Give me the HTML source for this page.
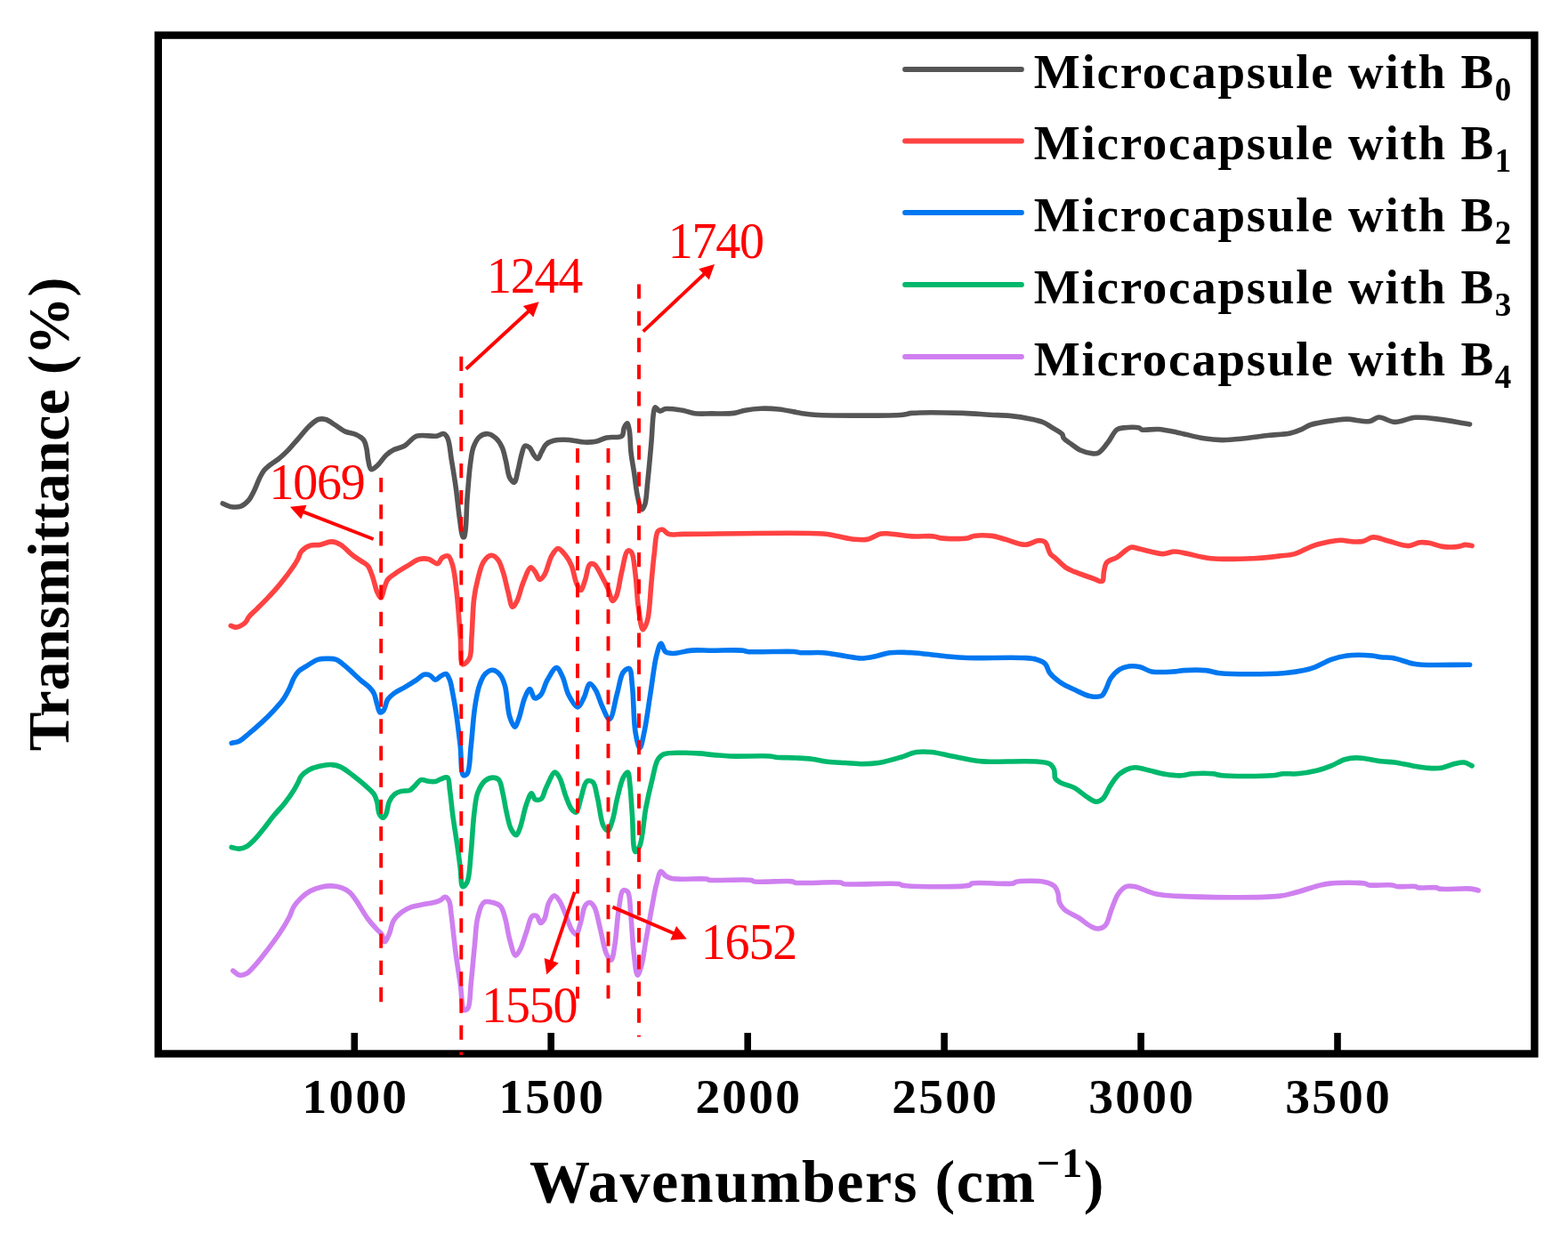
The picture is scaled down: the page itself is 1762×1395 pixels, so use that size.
<!DOCTYPE html>
<html><head><meta charset="utf-8"><title>FTIR spectra</title>
<style>html,body{margin:0;padding:0;background:#fff;}body{width:1762px;height:1395px;overflow:hidden;}svg{display:block;}</style>
</head><body>
<svg width="1762" height="1395" viewBox="0 0 1762 1395"><rect x="0" y="0" width="1762" height="1395" fill="#ffffff"/>
<path d="M250.2,566.0 C253.0,567.1 255.6,568.8 258.7,569.4 C262.3,570.0 267.1,570.3 270.6,569.1 C273.9,567.9 276.7,565.4 279.2,562.6 C282.0,559.4 284.0,554.7 286.0,550.7 C287.9,546.8 289.3,542.5 291.1,538.8 C292.7,535.4 294.0,532.2 296.2,529.4 C298.5,526.5 301.8,524.0 304.7,521.7 C307.5,519.5 310.3,518.1 313.2,515.8 C316.5,513.1 320.0,509.9 323.4,506.4 C327.3,502.4 331.4,497.3 335.4,492.8 C339.4,488.3 343.3,482.9 347.3,479.2 C350.7,476.1 354.1,472.7 357.5,471.5 C360.3,470.6 363.1,470.7 366.0,471.5 C369.4,472.4 372.7,475.3 376.2,477.5 C380.0,479.9 384.0,483.2 388.1,485.1 C391.9,486.8 396.5,486.8 400.0,488.5 C403.2,490.0 406.6,491.8 408.6,494.5 C410.6,497.2 411.2,501.1 412.0,504.7 C412.9,508.5 412.8,512.7 413.7,516.6 C414.5,520.4 415.1,527.0 417.1,527.7 C418.8,528.3 421.6,525.4 423.9,523.4 C427.2,520.6 430.7,514.6 434.1,511.5 C436.9,509.0 439.4,507.2 442.6,505.6 C446.1,503.8 450.6,503.5 454.5,501.3 C459.1,498.7 462.7,492.2 468.2,490.2 C474.4,488.0 484.7,491.0 490.3,490.2 C493.8,489.7 496.6,487.0 498.8,487.7 C500.7,488.3 501.9,490.2 503.1,492.8 C505.4,497.7 505.9,508.0 507.3,516.6 C509.0,526.6 510.9,537.9 512.4,549.0 C514.0,560.6 515.2,574.7 516.7,584.7 C517.8,592.0 518.4,602.1 520.1,603.5 C520.6,603.9 521.2,603.9 521.7,603.5 C524.2,601.1 523.9,573.3 525.1,559.2 C526.2,546.2 527.1,532.0 528.5,521.7 C529.5,514.4 529.9,508.4 531.9,503.0 C533.6,498.4 535.7,493.6 538.7,491.1 C541.3,488.9 545.0,487.5 548.1,487.7 C551.3,487.9 554.9,490.4 557.5,492.8 C560.3,495.4 562.5,499.1 564.3,503.0 C566.3,507.4 567.1,512.9 568.5,518.3 C570.0,524.2 570.5,533.0 572.8,537.1 C574.2,539.6 576.5,542.6 577.9,542.2 C579.9,541.7 580.8,533.4 582.1,528.5 C583.6,522.8 584.8,514.8 586.4,509.8 C587.5,506.4 588.1,502.1 589.8,501.3 C591.1,500.7 593.4,501.8 594.9,503.0 C597.0,504.6 598.2,509.2 600.0,511.5 C601.4,513.3 603.0,516.0 604.3,515.8 C605.9,515.6 607.0,510.7 608.5,508.1 C610.1,505.3 611.3,501.7 613.6,499.6 C615.9,497.5 618.7,496.2 622.2,495.3 C626.8,494.1 633.5,494.2 639.2,494.5 C644.9,494.8 650.8,496.8 656.2,497.0 C661.0,497.2 665.5,497.1 669.8,496.2 C674.0,495.3 677.4,492.9 681.8,491.9 C686.9,490.7 695.7,492.8 698.8,490.2 C701.1,488.2 700.1,483.5 701.3,480.9 C702.2,478.9 703.8,475.7 704.7,475.8 C705.8,476.0 706.6,480.7 707.3,484.3 C708.4,490.2 708.1,500.3 709.0,508.1 C709.8,515.6 711.2,522.3 712.4,530.2 C713.8,539.2 714.9,551.4 716.7,559.2 C717.9,564.6 719.3,572.5 720.9,572.8 C722.0,573.0 723.5,570.2 724.5,567.7 C726.5,562.6 726.6,552.0 727.7,542.2 C729.1,529.1 730.8,510.2 732.0,496.2 C733.0,484.5 733.3,470.2 734.5,463.8 C735.0,461.0 735.1,458.2 736.2,457.9 C737.4,457.5 739.4,461.8 741.4,462.1 C743.4,462.4 745.3,460.0 748.2,459.6 C752.8,459.0 761.2,460.3 766.9,461.3 C771.8,462.1 775.5,464.1 780.5,464.7 C786.4,465.5 793.1,464.9 800.0,464.9 C807.8,464.9 818.1,465.3 825.0,464.4 C829.9,463.7 833.0,462.0 837.5,461.2 C842.8,460.2 848.9,459.4 854.9,459.2 C861.3,459.0 867.9,459.2 874.9,460.0 C882.8,460.8 892.6,463.3 899.9,464.4 C905.5,465.2 907.7,465.8 914.9,466.2 C933.5,467.3 998.7,467.6 1014.7,466.2 C1019.8,465.7 1020.0,464.8 1024.7,464.4 C1035.9,463.4 1066.0,463.9 1082.1,464.4 C1093.7,464.7 1102.8,465.7 1112.1,466.2 C1120.1,466.7 1127.0,466.6 1134.6,467.4 C1142.4,468.2 1151.4,469.5 1158.2,470.9 C1163.4,472.0 1167.6,472.8 1171.8,474.5 C1175.8,476.1 1179.1,478.7 1182.7,480.9 C1186.4,483.2 1191.6,485.6 1193.6,488.1 C1194.8,489.6 1194.3,491.2 1195.4,492.7 C1197.0,494.9 1200.6,496.9 1203.6,499.0 C1206.9,501.4 1210.5,504.5 1214.5,506.3 C1218.6,508.2 1224.4,509.7 1228.1,509.9 C1230.6,510.0 1232.3,510.1 1234.5,509.0 C1237.8,507.3 1241.2,502.2 1244.5,498.1 C1248.2,493.5 1251.5,485.3 1255.3,482.7 C1257.7,481.1 1259.6,481.3 1262.6,480.9 C1267.1,480.4 1276.6,479.9 1279.9,480.9 C1281.5,481.4 1281.4,482.5 1283.0,483.0 C1286.5,484.0 1295.4,482.1 1301.7,482.5 C1308.4,483.0 1314.6,484.4 1322.1,485.9 C1331.3,487.7 1343.6,491.4 1352.8,492.8 C1360.3,494.0 1366.0,494.5 1373.2,494.6 C1381.2,494.7 1390.3,493.6 1398.8,492.8 C1407.3,491.9 1415.8,490.5 1424.3,489.5 C1432.8,488.5 1442.8,488.4 1449.8,486.9 C1454.9,485.8 1458.6,484.3 1462.6,482.6 C1466.2,481.1 1468.4,479.0 1472.8,477.5 C1479.7,475.2 1493.3,473.4 1500.9,472.3 C1506.0,471.6 1508.7,471.1 1513.7,471.1 C1520.8,471.1 1532.7,474.7 1539.2,473.6 C1543.5,472.9 1545.5,469.3 1549.4,469.0 C1554.5,468.7 1560.9,474.2 1567.3,474.4 C1574.5,474.7 1582.4,469.9 1590.3,469.3 C1598.5,468.7 1606.6,470.0 1615.8,471.1 C1626.7,472.4 1639.7,475.0 1651.6,476.9" fill="none" stroke="#555555" stroke-width="5.6" stroke-linejoin="round" stroke-linecap="round"/>
<path d="M259.4,703.4 C261.4,704.0 263.1,705.3 265.3,705.1 C268.3,704.8 273.0,702.2 275.5,700.0 C277.6,698.1 277.9,695.5 279.8,693.2 C282.2,690.2 285.9,687.2 289.2,683.9 C292.9,680.2 297.1,676.2 301.1,671.9 C305.5,667.2 310.1,662.2 314.7,656.6 C319.8,650.4 326.4,641.6 330.0,636.2 C332.3,632.8 333.6,630.5 335.1,627.7 C336.4,625.1 336.6,622.3 338.5,620.0 C340.8,617.3 345.2,614.4 348.8,613.2 C352.1,612.1 355.4,613.0 359.0,612.4 C363.2,611.7 368.4,608.7 372.6,608.9 C376.3,609.0 379.4,610.4 382.8,612.4 C387.3,615.0 392.1,621.0 396.4,624.3 C400.0,627.0 403.6,629.0 406.6,631.1 C409.1,632.9 411.6,633.8 413.5,636.2 C415.8,639.1 417.0,643.7 418.6,648.1 C420.5,653.2 421.8,660.8 423.7,665.1 C425.0,668.0 426.6,672.0 427.9,671.9 C429.5,671.7 430.8,663.6 432.2,660.0 C433.4,656.9 433.8,654.0 435.6,651.5 C437.6,648.8 440.9,647.0 444.1,644.7 C448.0,641.9 453.1,638.9 457.7,636.2 C462.2,633.5 467.0,629.6 471.4,628.5 C474.9,627.6 478.3,627.7 481.6,628.5 C485.1,629.3 489.2,634.2 491.8,633.6 C494.1,633.1 494.8,628.2 496.9,626.8 C498.8,625.5 501.9,624.2 503.7,625.1 C506.1,626.3 507.4,631.5 508.8,636.2 C511.0,643.5 511.8,654.1 513.1,665.1 C514.8,679.7 516.1,701.3 517.3,716.2 C518.3,727.7 516.8,745.7 519.9,746.9 C521.7,747.6 525.8,743.4 527.5,740.0 C530.2,734.7 529.2,725.3 530.0,716.2 C531.0,704.1 531.1,685.5 532.6,673.6 C533.7,665.0 534.9,658.7 536.8,651.5 C538.6,644.5 540.3,635.8 543.6,631.1 C545.9,627.8 549.3,624.4 552.1,624.3 C554.7,624.2 557.7,626.8 559.8,629.4 C562.6,632.9 564.0,639.2 565.8,644.7 C567.8,651.0 569.1,658.6 570.9,665.1 C572.5,671.1 573.8,681.8 576.0,682.2 C577.5,682.5 579.5,678.4 581.1,675.4 C583.6,670.5 585.2,661.3 587.9,654.9 C590.4,648.9 593.6,638.4 596.4,637.9 C598.1,637.6 599.9,641.0 601.5,643.0 C603.4,645.4 604.7,651.3 606.6,651.5 C608.2,651.7 610.0,648.9 611.7,646.4 C614.7,641.8 617.0,629.6 620.2,624.3 C622.3,620.8 624.6,616.7 627.1,616.6 C629.7,616.5 633.1,621.2 635.6,624.3 C638.3,627.7 640.5,631.7 642.4,636.2 C644.6,641.6 645.4,650.0 647.5,654.9 C649.0,658.4 651.0,663.5 652.6,663.4 C654.4,663.3 656.1,655.9 657.7,651.5 C659.6,646.4 660.1,636.5 662.8,634.5 C664.2,633.4 666.2,633.6 667.9,634.5 C670.8,636.1 673.8,643.5 676.4,648.1 C678.9,652.6 681.2,657.1 683.2,661.7 C685.2,666.2 686.5,675.1 688.4,675.4 C689.7,675.6 691.3,672.8 692.6,670.2 C695.2,664.8 696.4,651.7 698.6,643.0 C700.7,634.8 702.4,620.6 705.4,619.2 C706.7,618.6 708.4,619.5 709.6,620.9 C712.3,624.2 712.7,635.8 713.9,644.7 C715.4,655.8 715.7,670.9 717.3,682.2 C718.7,691.6 720.2,707.4 722.4,707.7 C723.9,707.9 726.1,702.2 727.5,697.5 C730.1,688.6 730.5,669.6 731.8,656.6 C733.0,644.7 733.8,633.1 735.2,622.6 C736.4,613.4 736.4,600.5 739.4,597.0 C740.8,595.4 742.7,595.0 744.5,595.3 C746.7,595.7 748.4,599.4 751.4,600.4 C755.6,601.8 759.9,600.4 768.4,600.4 C794.3,600.4 900.2,598.1 924.8,600.0 C932.5,600.6 934.4,601.5 939.8,602.4 C946.0,603.5 953.6,605.6 959.8,606.2 C965.1,606.7 969.9,607.2 974.8,606.2 C979.9,605.2 985.2,600.9 989.8,600.0 C993.4,599.3 995.7,599.8 999.8,600.0 C1006.2,600.4 1016.4,602.4 1024.7,602.9 C1033.0,603.4 1043.8,602.1 1049.7,602.9 C1053.0,603.3 1053.8,604.5 1057.2,604.9 C1063.8,605.8 1080.5,606.0 1087.1,604.9 C1090.5,604.3 1091.4,602.9 1094.6,602.4 C1099.6,601.6 1108.5,601.6 1114.6,602.4 C1120.0,603.1 1124.1,604.8 1129.6,606.2 C1136.4,608.0 1145.4,612.4 1152.2,612.3 C1157.8,612.2 1163.5,607.6 1167.6,607.5 C1170.3,607.5 1172.5,607.8 1174.4,609.4 C1177.1,611.7 1177.8,619.4 1180.2,622.5 C1181.9,624.8 1183.8,625.4 1186.0,627.3 C1189.2,630.1 1193.6,635.2 1197.5,637.9 C1200.7,640.1 1203.2,641.0 1207.2,642.7 C1213.4,645.3 1226.4,649.4 1231.3,651.4 C1233.5,652.3 1234.6,653.3 1236.0,653.5 C1237.1,653.6 1238.3,653.8 1239.0,653.0 C1240.4,651.6 1239.7,646.1 1240.5,642.7 C1241.3,639.2 1241.5,634.8 1243.8,632.1 C1246.3,629.2 1251.4,628.7 1255.4,626.3 C1260.3,623.3 1266.1,616.2 1270.9,615.2 C1274.3,614.5 1276.5,616.3 1280.5,617.1 C1287.1,618.4 1299.6,622.6 1306.8,622.6 C1311.8,622.6 1315.1,620.1 1319.6,620.0 C1324.5,619.9 1329.2,621.5 1334.9,622.6 C1342.3,624.0 1350.5,626.7 1360.4,627.7 C1374.0,629.0 1395.0,628.3 1409.0,627.7 C1419.7,627.2 1428.8,626.1 1437.1,625.1 C1443.7,624.3 1448.9,624.3 1454.9,622.6 C1461.6,620.7 1468.7,615.9 1475.4,613.6 C1481.5,611.5 1487.7,610.1 1493.2,609.0 C1497.8,608.1 1501.5,607.3 1506.0,607.2 C1510.9,607.1 1516.7,608.8 1521.3,609.0 C1525.0,609.1 1528.1,609.2 1531.5,608.5 C1535.3,607.7 1538.8,604.2 1543.0,603.9 C1548.0,603.6 1553.6,606.5 1559.6,608.0 C1566.6,609.7 1576.1,613.8 1582.6,613.6 C1587.5,613.5 1591.3,610.3 1595.4,609.8 C1599.0,609.4 1601.9,609.7 1605.6,610.3 C1610.2,611.0 1615.6,613.7 1620.9,614.4 C1626.6,615.1 1634.1,615.0 1638.8,614.4 C1641.9,614.0 1643.9,612.5 1646.5,612.4 C1649.0,612.3 1651.6,613.2 1654.1,613.6" fill="none" stroke="#ff4242" stroke-width="5.6" stroke-linejoin="round" stroke-linecap="round"/>
<path d="M260.2,835.4 C263.0,834.7 265.8,834.6 268.7,833.2 C272.5,831.3 276.5,827.3 280.6,823.9 C285.1,820.2 289.8,816.1 294.3,811.9 C298.9,807.6 303.8,802.8 307.9,798.3 C311.6,794.3 315.2,790.5 318.1,786.4 C320.8,782.6 322.9,778.5 324.9,774.5 C326.8,770.6 328.1,766.1 330.0,762.6 C331.6,759.7 332.8,757.2 335.1,754.9 C337.7,752.3 341.8,750.3 345.4,748.1 C349.2,745.8 353.2,742.6 357.3,741.3 C361.1,740.1 365.6,740.3 369.2,740.4 C372.3,740.4 375.0,740.3 377.7,741.3 C380.7,742.4 383.6,745.1 386.2,747.2 C388.7,749.1 390.4,750.9 393.0,753.2 C396.5,756.3 401.1,760.9 405.0,764.3 C408.5,767.4 412.5,770.0 415.2,772.8 C417.4,775.1 418.9,776.9 420.3,779.6 C421.9,782.9 422.5,787.8 423.7,791.5 C424.8,794.8 425.5,800.3 427.1,800.9 C428.3,801.3 430.1,799.8 431.3,798.3 C433.2,795.9 433.5,789.6 435.6,786.4 C437.4,783.6 439.7,781.7 442.4,779.6 C445.7,777.1 450.2,775.2 454.3,772.8 C458.7,770.2 464.0,766.9 468.0,764.3 C471.2,762.2 473.7,759.0 476.5,758.3 C478.8,757.7 481.2,758.3 483.3,759.2 C485.5,760.2 487.2,764.2 489.2,764.3 C491.2,764.4 493.1,761.2 495.2,760.0 C497.1,758.9 499.5,757.0 501.2,757.5 C503.0,758.1 504.2,761.5 505.4,764.3 C507.0,768.3 507.7,773.8 508.8,779.6 C510.2,787.0 511.8,796.0 513.1,805.1 C514.6,815.6 516.0,828.0 517.3,839.2 C518.5,850.1 517.6,869.6 520.7,871.5 C521.9,872.2 523.8,871.3 525.0,869.8 C528.1,865.9 527.9,850.3 529.2,839.2 C530.7,826.2 531.6,808.9 533.4,796.6 C534.8,787.0 536.1,778.1 538.5,771.1 C540.3,765.7 542.3,760.5 545.3,757.5 C547.7,755.1 551.0,753.0 553.8,753.2 C556.7,753.4 560.2,756.5 562.4,759.2 C564.9,762.2 566.0,766.0 567.5,771.1 C569.9,779.4 570.0,796.8 572.6,805.1 C574.2,810.3 576.7,817.1 578.5,817.1 C580.0,817.1 581.4,812.2 582.8,808.5 C585.1,802.6 587.0,790.9 589.6,784.7 C591.4,780.4 593.7,774.4 595.6,774.5 C597.4,774.6 598.4,783.9 600.7,784.7 C602.6,785.3 605.5,783.4 607.5,781.3 C610.7,778.0 612.0,769.5 615.1,764.3 C618.0,759.3 622.4,750.5 625.4,750.6 C628.0,750.7 630.2,756.7 632.2,760.9 C634.9,766.4 635.9,775.4 639.0,781.3 C641.7,786.5 646.2,795.0 649.2,794.9 C651.8,794.8 653.9,788.6 656.0,784.7 C658.5,780.0 660.1,768.9 662.8,768.5 C664.8,768.2 667.6,772.9 669.6,776.2 C672.3,780.6 673.8,787.8 676.4,793.2 C678.9,798.5 682.4,808.8 685.0,808.5 C688.4,808.1 690.8,788.8 693.5,779.6 C695.9,771.3 696.9,760.3 700.3,755.8 C702.2,753.2 705.4,750.8 707.1,751.5 C709.7,752.7 709.5,763.0 710.5,771.1 C712.1,784.1 711.8,809.4 713.9,822.2 C715.2,830.1 717.3,840.9 719.0,840.9 C720.7,840.9 722.5,829.8 724.1,822.2 C726.5,810.9 728.6,793.8 730.9,779.6 C733.2,765.4 735.0,747.2 737.7,737.0 C739.3,731.1 740.9,723.5 742.8,723.4 C744.4,723.3 745.5,731.0 748.0,732.8 C750.2,734.4 753.1,734.4 756.5,734.5 C761.8,734.6 769.9,731.7 776.9,731.1 C784.3,730.5 791.5,731.2 800.0,731.2 C810.5,731.2 828.6,730.4 835.0,731.2 C837.4,731.5 837.4,732.2 840.0,732.5 C848.2,733.6 882.8,731.7 892.4,732.5 C896.0,732.8 896.7,733.4 899.9,733.7 C905.8,734.2 916.5,733.1 924.8,733.7 C933.1,734.3 942.2,736.4 949.8,737.5 C956.1,738.4 961.5,740.0 967.3,740.0 C973.1,740.0 979.2,738.6 984.8,737.5 C990.0,736.5 994.1,734.4 999.8,733.7 C1007.0,732.8 1016.4,733.3 1024.7,733.7 C1033.0,734.1 1042.4,735.4 1049.7,736.2 C1055.3,736.8 1059.2,737.5 1064.7,738.0 C1071.4,738.6 1077.8,739.2 1087.1,739.5 C1102.7,740.0 1135.9,738.7 1149.6,739.5 C1156.3,739.9 1160.1,739.9 1164.5,741.2 C1168.3,742.3 1172.0,743.7 1174.5,746.2 C1177.0,748.7 1177.1,753.0 1179.5,756.2 C1182.5,760.1 1187.2,764.2 1192.0,767.4 C1197.1,770.9 1203.8,773.6 1209.5,776.2 C1214.6,778.6 1219.5,781.5 1224.5,782.4 C1229.0,783.3 1234.8,784.0 1237.9,782.2 C1240.6,780.7 1241.4,777.1 1243.0,774.1 C1244.8,770.7 1245.7,766.1 1248.1,762.6 C1250.7,758.8 1254.6,754.6 1258.3,752.3 C1261.5,750.3 1264.9,749.5 1268.5,749.0 C1272.5,748.5 1277.1,748.9 1281.3,749.8 C1285.6,750.8 1289.0,753.9 1294.1,754.9 C1301.0,756.2 1313.0,755.3 1319.6,754.9 C1323.8,754.6 1325.6,753.9 1329.8,753.6 C1336.4,753.2 1347.9,752.9 1355.3,753.6 C1361.1,754.2 1363.6,756.0 1370.7,756.7 C1385.8,758.2 1425.0,757.9 1442.2,756.7 C1452.0,756.0 1458.6,755.0 1465.1,753.6 C1470.0,752.5 1473.3,751.5 1477.9,749.8 C1483.4,747.7 1489.7,743.5 1495.8,741.4 C1501.7,739.3 1507.0,737.8 1513.7,737.0 C1522.0,736.0 1534.8,736.4 1541.8,737.0 C1546.1,737.4 1548.4,738.4 1552.0,738.8 C1556.0,739.3 1559.9,738.8 1564.7,739.6 C1571.3,740.7 1581.5,744.8 1587.7,746.0 C1591.7,746.8 1593.2,746.9 1597.9,747.2 C1608.8,747.8 1633.7,747.2 1651.6,747.2" fill="none" stroke="#0077f0" stroke-width="5.6" stroke-linejoin="round" stroke-linecap="round"/>
<path d="M260.2,952.4 C263.0,953.0 265.9,954.2 268.7,954.1 C271.6,954.0 274.5,953.0 277.2,951.5 C280.3,949.8 282.9,946.8 285.8,943.9 C289.2,940.5 292.5,936.2 296.0,931.9 C299.9,927.1 303.9,921.5 307.9,916.6 C311.8,911.9 316.1,907.7 319.8,903.0 C323.5,898.3 327.3,892.9 330.0,888.5 C332.1,885.1 333.6,882.1 335.1,879.2 C336.4,876.8 336.8,874.5 338.5,872.4 C340.5,869.9 343.8,867.3 347.1,865.5 C350.6,863.6 354.8,862.3 359.0,861.3 C363.3,860.3 368.4,859.4 372.6,859.6 C376.3,859.8 379.3,860.5 382.8,862.1 C387.2,864.1 391.9,868.1 396.4,871.5 C401.0,875.0 405.9,878.9 410.0,882.6 C413.8,886.0 418.0,889.3 420.3,892.8 C422.1,895.6 422.8,898.1 423.7,901.3 C424.8,905.3 424.6,911.8 426.2,914.9 C427.3,917.0 429.2,919.3 430.5,919.2 C431.7,919.1 432.9,916.9 433.9,914.9 C435.5,911.7 435.5,905.2 437.3,901.3 C438.8,898.0 440.9,894.8 443.3,892.8 C445.5,891.0 448.2,890.1 450.9,889.4 C453.8,888.6 457.7,889.6 460.3,888.5 C462.7,887.5 464.2,885.3 466.2,883.4 C468.4,881.3 470.4,877.4 473.1,876.6 C475.6,875.8 478.8,878.0 481.6,878.3 C484.4,878.6 487.7,878.9 490.1,878.3 C492.1,877.8 493.3,876.5 495.2,875.8 C497.5,875.0 501.2,872.9 502.9,874.1 C505.2,875.6 504.6,882.3 505.4,887.7 C506.6,895.5 507.5,906.6 508.8,916.6 C510.3,927.5 512.4,940.2 513.9,950.7 C515.2,959.8 516.3,968.2 517.3,976.2 C518.2,983.4 517.8,995.9 519.9,996.6 C521.2,997.0 523.6,994.3 525.0,991.5 C527.9,985.6 528.0,970.7 529.2,959.2 C530.6,946.0 531.1,929.0 532.6,916.6 C533.8,907.0 534.2,898.1 536.8,891.1 C538.9,885.6 541.9,880.3 545.3,877.5 C547.8,875.4 551.1,874.1 553.8,874.1 C556.2,874.1 558.9,874.7 560.6,876.6 C563.1,879.3 563.6,885.7 564.9,891.1 C566.5,897.7 567.6,906.2 569.2,913.2 C570.7,919.7 571.9,927.4 574.3,931.9 C575.9,935.0 578.5,939.0 580.2,938.8 C581.9,938.6 583.1,933.9 584.5,930.2 C586.8,924.0 588.8,911.7 591.3,904.7 C593.2,899.6 595.4,892.0 597.3,891.9 C598.7,891.8 599.6,897.8 601.5,898.7 C603.3,899.6 606.5,899.3 608.3,897.9 C610.8,896.0 611.3,890.3 613.4,886.0 C616.1,880.6 620.6,868.4 623.6,868.1 C625.5,867.9 627.2,871.3 628.8,874.1 C631.4,878.7 633.2,888.2 635.6,894.5 C637.7,900.0 639.8,906.7 642.4,909.8 C644.0,911.7 646.0,913.7 647.5,913.2 C649.9,912.4 650.8,903.3 652.6,897.9 C654.7,891.8 656.1,880.4 659.4,878.3 C661.3,877.1 664.4,877.7 666.2,879.2 C669.1,881.7 669.6,889.6 671.3,896.2 C673.6,905.2 674.9,922.6 678.1,928.5 C679.6,931.3 681.7,933.9 683.2,933.6 C685.2,933.2 686.9,926.4 688.4,921.7 C690.5,915.2 691.5,905.8 693.5,897.9 C695.5,889.9 697.6,879.2 700.3,874.1 C701.8,871.2 704.2,867.8 705.4,868.1 C707.1,868.6 707.2,876.7 707.9,882.6 C709.0,891.5 709.6,904.7 710.5,916.6 C711.5,929.6 711.0,956.7 713.9,957.5 C715.2,957.9 717.5,954.2 719.0,950.7 C722.3,942.8 723.3,921.1 725.8,908.1 C727.9,897.0 730.2,887.0 732.6,877.5 C734.7,869.0 736.2,858.6 739.4,853.6 C741.3,850.6 743.0,849.0 746.2,847.7 C751.3,845.6 761.5,846.4 768.4,846.3 C774.4,846.2 779.7,846.5 785.4,846.9 C791.1,847.3 796.7,848.1 802.4,848.6 C808.2,849.1 812.8,849.7 820.0,850.0 C831.5,850.5 856.2,849.3 864.9,850.0 C868.5,850.3 869.2,850.9 872.4,851.2 C877.9,851.7 887.9,851.6 894.9,852.0 C901.1,852.3 906.6,852.5 912.4,853.2 C918.2,853.9 923.8,855.5 929.8,856.2 C936.2,857.0 943.1,857.1 949.8,857.5 C956.5,857.9 963.4,858.7 969.8,858.7 C975.8,858.7 981.0,858.5 987.3,857.5 C994.9,856.3 1004.7,853.4 1012.2,851.2 C1018.6,849.4 1023.8,846.4 1029.7,845.5 C1035.5,844.6 1041.0,844.9 1047.2,845.5 C1054.3,846.2 1061.7,848.5 1069.7,850.0 C1079.0,851.8 1091.7,854.6 1099.6,855.5 C1104.6,856.1 1106.5,856.0 1112.1,856.2 C1123.9,856.5 1155.2,855.0 1167.0,856.2 C1172.7,856.8 1176.5,856.9 1179.5,858.7 C1181.9,860.1 1183.4,862.4 1184.5,864.9 C1185.7,867.7 1184.4,872.3 1185.8,874.9 C1187.1,877.2 1189.3,878.4 1192.0,879.9 C1195.8,882.0 1202.2,882.8 1207.0,885.4 C1212.2,888.2 1217.5,893.4 1222.0,896.2 C1225.4,898.3 1228.5,901.1 1231.5,901.2 C1234.2,901.3 1236.8,900.0 1239.2,897.9 C1242.6,894.9 1244.8,887.4 1248.1,882.6 C1251.2,878.0 1254.1,873.1 1258.3,869.8 C1262.6,866.5 1268.6,863.6 1273.6,862.9 C1278.0,862.3 1281.5,863.8 1286.4,864.7 C1293.0,866.0 1302.2,869.1 1309.4,870.3 C1315.7,871.3 1321.9,872.0 1327.3,871.8 C1331.9,871.6 1335.1,870.2 1340.0,869.8 C1346.5,869.3 1356.9,869.2 1363.0,869.8 C1367.1,870.2 1368.4,871.3 1373.2,871.8 C1384.4,872.9 1417.3,872.7 1429.4,871.8 C1435.2,871.3 1437.7,870.1 1442.2,869.8 C1447.1,869.4 1451.9,870.3 1457.5,869.8 C1464.4,869.2 1473.7,867.7 1480.5,866.0 C1486.2,864.6 1490.8,862.9 1495.8,860.9 C1501.0,858.8 1506.1,855.2 1511.1,853.7 C1515.5,852.4 1519.9,852.0 1523.9,851.9 C1527.5,851.8 1530.2,852.2 1534.1,852.7 C1539.2,853.3 1546.3,855.1 1552.0,855.8 C1557.3,856.5 1561.9,856.3 1567.3,857.0 C1573.6,857.9 1581.1,859.8 1587.7,860.9 C1593.8,861.9 1599.9,863.1 1605.6,863.4 C1610.9,863.7 1616.1,863.7 1620.9,862.9 C1625.4,862.1 1629.5,859.8 1633.7,858.8 C1637.6,857.9 1641.7,856.5 1645.2,857.0 C1648.4,857.4 1651.1,859.6 1654.1,860.9" fill="none" stroke="#00b86c" stroke-width="5.6" stroke-linejoin="round" stroke-linecap="round"/>
<path d="M261.9,1091.2 C264.2,1092.8 266.2,1095.5 268.7,1096.0 C271.3,1096.5 274.4,1095.8 277.2,1094.3 C280.8,1092.4 283.9,1088.0 287.5,1084.1 C291.9,1079.3 296.6,1073.0 301.1,1067.1 C305.7,1061.0 310.6,1054.5 314.7,1048.3 C318.5,1042.6 322.2,1036.5 324.9,1031.3 C327.1,1027.1 327.8,1023.1 330.0,1019.4 C332.3,1015.7 335.3,1012.2 338.5,1009.2 C341.6,1006.2 345.1,1003.5 348.8,1001.5 C352.5,999.5 356.7,998.1 360.7,997.2 C364.6,996.3 368.6,995.8 372.6,995.9 C376.6,996.0 381.0,996.8 384.5,998.1 C387.7,999.3 390.5,1001.0 393.0,1003.2 C395.6,1005.5 397.2,1008.1 399.8,1011.7 C403.7,1017.1 409.1,1027.1 413.5,1033.0 C417.0,1037.7 420.8,1041.8 423.7,1044.9 C425.6,1047.0 427.4,1047.9 428.8,1050.0 C430.3,1052.3 430.8,1058.4 432.2,1058.5 C433.6,1058.6 435.8,1053.3 437.3,1050.0 C439.3,1045.7 439.7,1039.0 442.4,1034.7 C444.9,1030.6 449.0,1027.1 452.6,1024.5 C455.8,1022.2 459.2,1020.7 462.8,1019.4 C466.6,1018.1 470.7,1017.6 474.8,1016.8 C479.2,1015.9 484.7,1015.3 488.4,1014.3 C491.1,1013.5 493.1,1012.8 495.2,1011.7 C497.1,1010.7 498.7,1008.1 500.3,1008.3 C501.9,1008.5 503.5,1010.5 504.6,1012.6 C506.3,1016.0 506.2,1021.5 507.1,1027.9 C508.6,1038.8 510.4,1058.4 512.2,1072.2 C513.8,1084.3 515.7,1095.3 517.3,1106.2 C518.8,1116.3 518.6,1133.5 521.6,1135.2 C522.8,1135.9 524.7,1135.0 525.8,1133.5 C528.6,1129.9 528.1,1116.4 529.2,1106.2 C530.6,1093.3 532.0,1075.5 533.4,1062.2 C534.6,1051.0 534.6,1040.1 536.8,1031.5 C538.5,1024.9 540.0,1016.9 543.6,1014.5 C546.3,1012.7 550.6,1013.8 553.8,1014.5 C556.9,1015.2 560.2,1016.3 562.4,1018.7 C565.0,1021.6 566.0,1026.5 567.5,1031.5 C569.5,1038.2 570.5,1048.0 572.6,1055.4 C574.5,1062.1 576.9,1073.7 579.4,1074.1 C581.0,1074.3 582.9,1070.3 584.5,1067.3 C587.0,1062.7 589.0,1054.8 591.3,1048.5 C593.6,1042.3 595.1,1031.9 598.1,1029.8 C599.6,1028.7 601.8,1029.0 603.2,1029.8 C605.1,1030.9 605.9,1037.3 607.5,1037.5 C608.8,1037.7 610.5,1035.4 611.7,1033.2 C613.9,1029.3 614.4,1019.2 616.8,1014.5 C618.5,1011.2 620.7,1006.9 622.8,1006.8 C624.7,1006.7 627.0,1010.1 628.8,1012.8 C631.4,1016.6 633.4,1022.8 635.6,1028.1 C637.9,1033.6 639.9,1041.3 642.4,1045.1 C644.0,1047.5 646.0,1050.5 647.5,1050.2 C649.6,1049.7 651.0,1041.5 652.6,1036.6 C654.4,1030.9 655.2,1021.4 657.7,1017.9 C659.1,1015.9 661.2,1014.3 662.8,1014.5 C664.6,1014.7 666.4,1017.0 667.9,1019.6 C670.8,1024.7 672.5,1036.4 674.7,1045.1 C677.0,1054.0 678.7,1066.5 681.5,1072.4 C683.1,1075.6 685.3,1079.5 686.7,1079.2 C688.7,1078.8 689.7,1069.1 690.9,1062.2 C692.7,1051.9 693.3,1034.2 695.2,1023.0 C696.6,1014.5 697.4,1002.5 700.3,1000.9 C701.7,1000.1 704.1,1001.0 705.4,1002.6 C708.3,1006.1 707.8,1018.5 708.8,1028.1 C710.1,1040.5 710.7,1058.3 712.2,1070.7 C713.4,1080.3 714.5,1096.0 716.4,1096.2 C717.6,1096.3 719.4,1090.4 720.7,1086.0 C722.8,1078.9 724.0,1067.4 725.8,1057.1 C727.9,1045.4 730.4,1030.9 732.6,1019.6 C734.4,1010.3 735.7,1001.3 737.7,994.1 C739.2,988.5 740.6,980.1 742.8,979.6 C744.3,979.3 746.0,983.4 748.0,984.7 C750.0,986.0 751.5,986.9 754.8,987.6 C762.4,989.2 788.0,987.1 793.9,988.1 C795.7,988.4 795.5,989.0 797.3,989.3 C803.9,990.4 838.3,988.0 844.4,989.5 C846.0,989.9 845.6,990.5 847.2,990.9 C853.0,992.3 885.1,989.6 890.8,990.9 C892.3,991.2 892.0,991.9 893.5,992.2 C899.9,993.7 938.8,990.7 945.2,992.2 C946.8,992.6 946.4,993.2 948.0,993.6 C955.2,995.3 1003.5,991.9 1010.6,993.6 C1012.2,994.0 1011.7,994.6 1013.3,995.0 C1021.3,996.9 1081.6,997.6 1089.6,995.0 C1091.3,994.4 1090.7,993.5 1092.3,993.0 C1098.2,991.1 1132.6,994.6 1138.6,993.0 C1140.2,992.6 1139.9,991.8 1141.4,991.4 C1146.3,990.1 1166.2,989.7 1174.1,991.4 C1178.8,992.4 1182.5,993.9 1185.0,996.3 C1187.2,998.4 1188.1,1001.6 1189.0,1004.5 C1189.9,1007.5 1189.3,1011.1 1190.4,1014.0 C1191.5,1017.0 1193.2,1019.7 1195.9,1022.2 C1199.7,1025.7 1207.1,1028.4 1212.2,1031.7 C1217.0,1034.8 1221.7,1039.2 1225.8,1041.3 C1228.8,1042.8 1231.3,1044.2 1234.0,1044.0 C1236.8,1043.8 1240.0,1042.5 1242.2,1040.1 C1245.4,1036.7 1246.4,1028.8 1248.7,1023.1 C1251.1,1017.1 1253.3,1009.5 1256.6,1004.8 C1259.2,1001.1 1262.4,997.8 1265.7,996.5 C1268.5,995.4 1271.1,995.9 1274.8,996.5 C1280.9,997.5 1290.1,1003.0 1298.3,1004.8 C1306.7,1006.7 1312.6,1006.8 1324.4,1007.4 C1348.7,1008.6 1415.2,1009.7 1436.7,1007.4 C1445.5,1006.5 1448.4,1005.2 1455.0,1003.5 C1463.0,1001.5 1473.8,997.5 1481.1,995.7 C1486.2,994.4 1488.6,993.6 1494.2,993.1 C1503.7,992.2 1526.4,991.9 1533.3,993.1 C1535.9,993.5 1536.1,994.5 1538.5,994.9 C1543.8,995.8 1559.2,994.1 1564.6,994.9 C1567.1,995.3 1567.5,996.1 1569.9,996.5 C1574.5,997.2 1587.2,995.7 1590.8,996.5 C1592.1,996.8 1592.1,997.5 1593.4,997.8 C1597.0,998.6 1610.7,997.0 1614.3,997.8 C1615.6,998.1 1615.5,998.8 1616.9,999.1 C1622.0,1000.3 1645.7,998.2 1653.4,999.1 C1657.0,999.5 1658.7,1000.3 1661.3,1000.9" fill="none" stroke="#cf80f0" stroke-width="5.6" stroke-linejoin="round" stroke-linecap="round"/>
<line x1="419.6" y1="606.0" x2="339.5" y2="574.9" stroke="#ff0000" stroke-width="3.9"/><polygon points="326.0,569.7 344.5,567.7 338.3,583.6" fill="#ff0000"/>
<line x1="523.7" y1="414.7" x2="595.0" y2="349.0" stroke="#ff0000" stroke-width="3.9"/><polygon points="605.7,339.2 599.3,356.6 587.8,344.1" fill="#ff0000"/>
<line x1="722.7" y1="372.6" x2="792.4" y2="307.0" stroke="#ff0000" stroke-width="3.9"/><polygon points="803.0,297.1 796.8,314.6 785.2,302.2" fill="#ff0000"/>
<line x1="645.8" y1="1002.6" x2="619.0" y2="1081.7" stroke="#ff0000" stroke-width="3.9"/><polygon points="614.3,1095.4 611.6,1077.0 627.7,1082.5" fill="#ff0000"/>
<line x1="688.4" y1="1019.6" x2="758.5" y2="1049.7" stroke="#ff0000" stroke-width="3.9"/><polygon points="771.8,1055.4 753.3,1056.7 760.0,1041.1" fill="#ff0000"/>
<text x="302.4" y="560.5" font-family="Liberation Serif, serif" font-size="56" letter-spacing="-1.2" fill="#ff0000">1069</text>
<text x="546.9" y="329.4" font-family="Liberation Serif, serif" font-size="56" letter-spacing="-1.2" fill="#ff0000">1244</text>
<text x="750.7" y="289.6" font-family="Liberation Serif, serif" font-size="56" letter-spacing="-1.2" fill="#ff0000">1740</text>
<text x="541.2" y="1149.2" font-family="Liberation Serif, serif" font-size="56" letter-spacing="-1.2" fill="#ff0000">1550</text>
<text x="787.8" y="1077.5" font-family="Liberation Serif, serif" font-size="56" letter-spacing="-1.2" fill="#ff0000">1652</text>
<rect x="177.8" y="39.6" width="1546.6" height="1144.9" fill="none" stroke="#000" stroke-width="8.4"/>
<line x1="398.3" y1="1161" x2="398.3" y2="1182" stroke="#000" stroke-width="7.6"/>
<text x="399.4" y="1250.7" text-anchor="middle" font-family="Liberation Serif, serif" font-weight="bold" font-size="55.5" letter-spacing="2.2" fill="#000">1000</text>
<line x1="619.2" y1="1161" x2="619.2" y2="1182" stroke="#000" stroke-width="7.6"/>
<text x="620.3" y="1250.7" text-anchor="middle" font-family="Liberation Serif, serif" font-weight="bold" font-size="55.5" letter-spacing="2.2" fill="#000">1500</text>
<line x1="840.2" y1="1161" x2="840.2" y2="1182" stroke="#000" stroke-width="7.6"/>
<text x="841.3" y="1250.7" text-anchor="middle" font-family="Liberation Serif, serif" font-weight="bold" font-size="55.5" letter-spacing="2.2" fill="#000">2000</text>
<line x1="1061.1" y1="1161" x2="1061.1" y2="1182" stroke="#000" stroke-width="7.6"/>
<text x="1062.2" y="1250.7" text-anchor="middle" font-family="Liberation Serif, serif" font-weight="bold" font-size="55.5" letter-spacing="2.2" fill="#000">2500</text>
<line x1="1282.1" y1="1161" x2="1282.1" y2="1182" stroke="#000" stroke-width="7.6"/>
<text x="1283.2" y="1250.7" text-anchor="middle" font-family="Liberation Serif, serif" font-weight="bold" font-size="55.5" letter-spacing="2.2" fill="#000">3000</text>
<line x1="1503.0" y1="1161" x2="1503.0" y2="1182" stroke="#000" stroke-width="7.6"/>
<text x="1504.1" y="1250.7" text-anchor="middle" font-family="Liberation Serif, serif" font-weight="bold" font-size="55.5" letter-spacing="2.2" fill="#000">3500</text>
<line x1="428.2" y1="537.0" x2="428.2" y2="1126.5" stroke="#ff0000" stroke-width="3.9" stroke-dasharray="16.3 13.85"/>
<line x1="518.3" y1="400.7" x2="518.3" y2="1186.0" stroke="#ff0000" stroke-width="3.9" stroke-dasharray="16.3 13.77"/>
<line x1="649.0" y1="503.9" x2="649.0" y2="1122.6" stroke="#ff0000" stroke-width="3.9" stroke-dasharray="16.3 13.97"/>
<line x1="683.5" y1="503.9" x2="683.5" y2="1122.6" stroke="#ff0000" stroke-width="3.9" stroke-dasharray="16.3 13.88"/>
<line x1="718.0" y1="319.5" x2="718.0" y2="1165.5" stroke="#ff0000" stroke-width="3.9" stroke-dasharray="16.3 13.85"/>
<text x="918.5" y="1350.5" text-anchor="middle" font-family="Liberation Serif, serif" font-weight="bold" font-size="68" letter-spacing="1.6" fill="#000">Wavenumbers (cm<tspan dy="-27.5" font-size="46.5">&#8722;1</tspan><tspan dy="27.5">)</tspan></text>
<text transform="translate(77.4,578) rotate(-90)" text-anchor="middle" font-family="Liberation Serif, serif" font-weight="bold" font-size="65.6" fill="#000">Transmittance (%)</text>
<line x1="1017" y1="78.0" x2="1148" y2="78.0" stroke="#555555" stroke-width="5.8" stroke-linecap="round"/>
<text x="1161.8" y="98.8" font-family="Liberation Serif, serif" font-weight="bold" font-size="55" letter-spacing="1.75" fill="#000">Microcapsule with B<tspan font-size="37" dy="14">0</tspan></text>
<line x1="1017" y1="158.5" x2="1148" y2="158.5" stroke="#ff4242" stroke-width="5.8" stroke-linecap="round"/>
<text x="1161.8" y="179.3" font-family="Liberation Serif, serif" font-weight="bold" font-size="55" letter-spacing="1.75" fill="#000">Microcapsule with B<tspan font-size="37" dy="14">1</tspan></text>
<line x1="1017" y1="239.0" x2="1148" y2="239.0" stroke="#0077f0" stroke-width="5.8" stroke-linecap="round"/>
<text x="1161.8" y="259.8" font-family="Liberation Serif, serif" font-weight="bold" font-size="55" letter-spacing="1.75" fill="#000">Microcapsule with B<tspan font-size="37" dy="14">2</tspan></text>
<line x1="1017" y1="320.0" x2="1148" y2="320.0" stroke="#00b86c" stroke-width="5.8" stroke-linecap="round"/>
<text x="1161.8" y="340.8" font-family="Liberation Serif, serif" font-weight="bold" font-size="55" letter-spacing="1.75" fill="#000">Microcapsule with B<tspan font-size="37" dy="14">3</tspan></text>
<line x1="1017" y1="401.0" x2="1148" y2="401.0" stroke="#cf80f0" stroke-width="5.8" stroke-linecap="round"/>
<text x="1161.8" y="421.8" font-family="Liberation Serif, serif" font-weight="bold" font-size="55" letter-spacing="1.75" fill="#000">Microcapsule with B<tspan font-size="37" dy="14">4</tspan></text></svg>
</body></html>
